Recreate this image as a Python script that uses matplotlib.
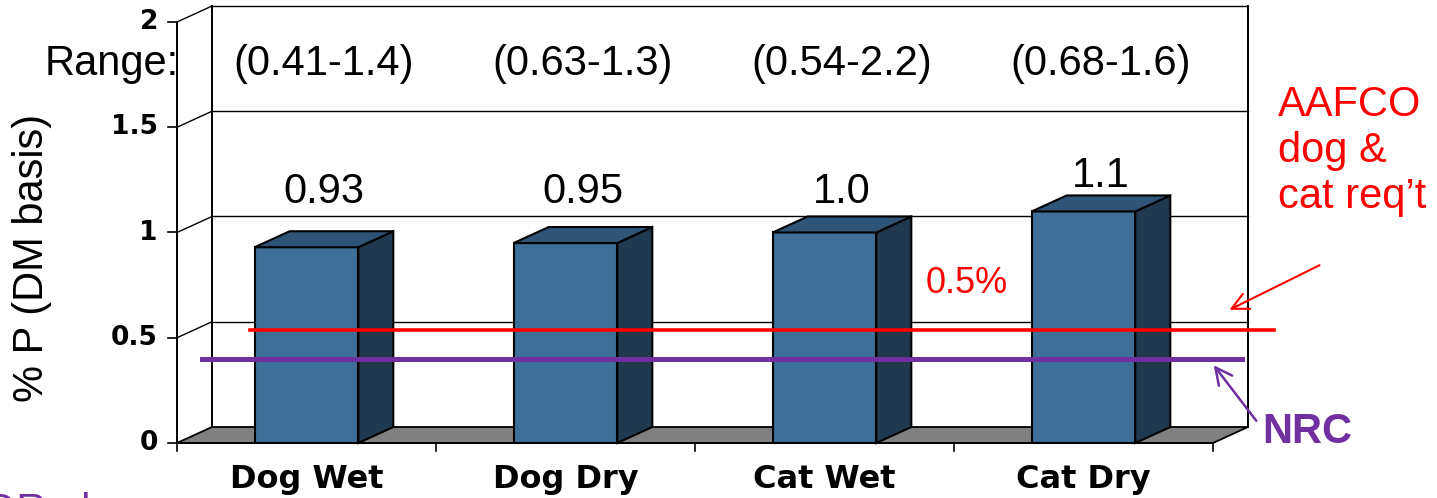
import matplotlib
matplotlib.use('Agg')
import matplotlib.pyplot as plt
from matplotlib.patches import Polygon

# ---------------- data ----------------
categories = ['Dog Wet', 'Dog Dry', 'Cat Wet', 'Cat Dry']
values = [0.93, 0.95, 1.0, 1.1]
value_labels = ['0.93', '0.95', '1.0', '1.1']
range_labels = ['(0.41-1.4)', '(0.63-1.3)', '(0.54-2.2)', '(0.68-1.6)']
y_ticks = [0, 0.5, 1, 1.5, 2]
y_tick_labels = ['0', '0.5', '1', '1.5', '2']
aafco_req = 0.5
nrc_req = 0.4

# ---------------- layout ----------------
W, H = 1437, 498
fig = plt.figure(figsize=(W / 100, H / 100), dpi=100)
ax = fig.add_axes([0, 0, 1, 1])
x0_px, x1_px = 177, 1213      # front x-axis extent (pixels)
y0_px, y2_px = 443, 22        # front y=0 and y=2 (pixels)
ppx = (x1_px - x0_px) / len(categories)
ppy = (y0_px - y2_px) / 2.0
ax.set_xlim(-0.5 - x0_px / ppx, -0.5 + (W - x0_px) / ppx)
ax.set_ylim(-(H - y0_px) / ppy, y0_px / ppy)
ax.axis('off')

def px(x, y):
    """pixel position -> data position (for annotation layout)"""
    return -0.5 + (x - x0_px) / ppx, (y0_px - y) / ppy

dx = 35 / ppx   # depth offset
dy = 16 / ppy
xl, xr = -0.5, len(categories) - 0.5
ymax = y_ticks[-1]
edge = 'black'

# floor
ax.add_patch(Polygon([(xl, 0), (xr, 0), (xr + dx, dy), (xl + dx, dy)],
                     closed=True, facecolor='#808080', edgecolor=edge, lw=1.3, zorder=1))
# back wall grid lines + edges
for t in y_ticks[1:]:
    ax.plot([xl + dx, xr + dx], [t + dy, t + dy], color='black', lw=1.0, zorder=1)
    ax.plot([xl, xl + dx], [t, t + dy], color='black', lw=1.0, zorder=1)
ax.plot([xl + dx, xl + dx], [dy, ymax + dy], color='black', lw=1.4, zorder=1)
ax.plot([xr + dx, xr + dx], [dy, ymax + dy], color='black', lw=1.4, zorder=1)

# front axes
ax.plot([xl, xl], [0, ymax], color='black', lw=1.4, zorder=2)
ax.plot([xl, xr], [0, 0], color='black', lw=1.4, zorder=2)
tlx = 9 / ppx
tly = 8 / ppy
for t, lab in zip(y_ticks, y_tick_labels):
    ax.plot([xl - tlx, xl], [t, t], color='black', lw=1.2, zorder=2)
    ax.text(xl - 19 / ppx, t, lab, ha='right', va='center', fontsize=19,
            fontweight='bold', family='DejaVu Sans', color='black')
for i in range(len(categories) + 1):
    ax.plot([xl + i, xl + i], [0, -tly], color='black', lw=1.2, zorder=2)

# bars
bw = 0.4
c_front = '#3D6F99'
c_top = '#2E5577'
c_side = '#20394F'
for i, v in enumerate(values):
    l, r = i - bw / 2, i + bw / 2
    ax.add_patch(Polygon([(l, 0), (r, 0), (r, v), (l, v)], closed=True,
                         facecolor=c_front, edgecolor=edge, lw=1.5, zorder=3))
    ax.add_patch(Polygon([(r, 0), (r + dx, dy), (r + dx, v + dy), (r, v)], closed=True,
                         facecolor=c_side, edgecolor=edge, lw=1.5, zorder=3))
    ax.add_patch(Polygon([(l, v), (l + dx, v + dy), (r + dx, v + dy), (r, v)], closed=True,
                         facecolor=c_top, edgecolor=edge, lw=1.5, zorder=3))

# x tick labels
for i, c in enumerate(categories):
    ax.text(i, px(0, 488)[1], c, ha='center', va='baseline', fontsize=23,
            fontweight='bold', family='DejaVu Sans')

# value labels and ranges
value_label_y = [px(0, 203)[1]] * 3 + [px(0, 187)[1]]
for i, (lab, ly) in enumerate(zip(value_labels, value_label_y)):
    ax.text(i + dx / 2, ly, lab, ha='center', va='baseline', fontsize=30,
            family='Liberation Sans')
for i, lab in enumerate(range_labels):
    ax.text(i + dx / 2, px(0, 75)[1], lab, ha='center', va='baseline', fontsize=30,
            family='Liberation Sans')
ax.text(*px(179, 75), 'Range:', ha='right', va='baseline', fontsize=30,
        family='Liberation Sans')

# requirement lines
red = '#FF0000'
purple = '#7030A0'
ax.plot([px(250, 0)[0], px(1274, 0)[0]], [aafco_req + dy / 2] * 2, color=red, lw=2.6, zorder=5)
ax.plot([px(202, 0)[0], px(1242, 0)[0]], [nrc_req] * 2, color=purple, lw=3.6, zorder=5)

ax.text(*px(967, 293), '0.5%', ha='center', va='baseline', fontsize=26,
        family='Liberation Sans', color=red)
ax.text(*px(1278, 85), 'AAFCO\ndog &\ncat req\u2019t', ha='left', va='top', fontsize=30,
        family='Liberation Sans', color=red, linespacing=1.2)
ax.annotate('', xy=px(1227, 311), xytext=px(1322, 264),
            arrowprops=dict(arrowstyle='->', color=red, lw=1.5, mutation_scale=30))
ax.annotate('', xy=px(1212, 363), xytext=px(1258, 423),
            arrowprops=dict(arrowstyle='->', color=purple, lw=1.8, mutation_scale=30))
ax.text(*px(1262, 443), 'NRC', ha='left', va='baseline', fontsize=30,
        fontweight='bold', family='Liberation Sans', color=purple)

# y axis label
ax.text(*px(32, 258), '% P (DM basis)', ha='center', va='center', rotation=90,
        fontsize=30, family='Liberation Sans')

# purple text at the bottom-left, cut by the slide edge as in the reference
ax.text(*px(-16, 523), 'OR also', ha='left', va='baseline', fontsize=30,
        family='Liberation Sans', color=purple, clip_on=False)

fig.savefig('out.png', dpi=100)
